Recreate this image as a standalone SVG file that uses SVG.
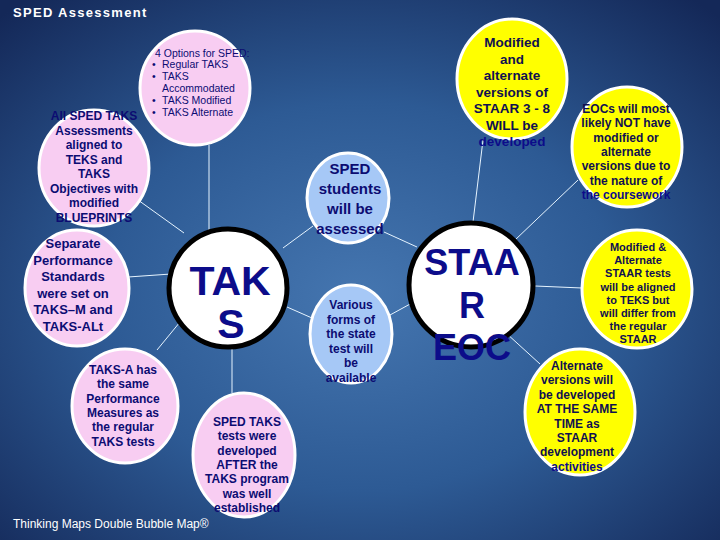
<svg xmlns="http://www.w3.org/2000/svg" width="720" height="540" viewBox="0 0 720 540">
<defs>
<radialGradient id="bg" cx="0.5" cy="0.55" r="0.72">
<stop offset="0" stop-color="#4576b0"/>
<stop offset="0.5" stop-color="#2d5a94"/>
<stop offset="1" stop-color="#142858"/>
</radialGradient>
</defs>
<style>
.pink{fill:#f8cdf2;stroke:#ffffff;stroke-width:3}
.blue{fill:#a6c8f6;stroke:#ffffff;stroke-width:3}
.yel{fill:#ffff00;stroke:#ffffff;stroke-width:3}
.core{fill:#ffffff;stroke:#000000;stroke-width:5}
.t{font-family:"Liberation Sans",Arial,sans-serif;font-weight:bold;fill:#0c0c72;text-anchor:middle}
.ty{font-family:"Liberation Sans",Arial,sans-serif;font-weight:bold;fill:#101050;text-anchor:middle}
.big{font-family:"Liberation Sans",Arial,sans-serif;font-weight:bold;fill:#0c0c8a;text-anchor:middle}
.opt{font-family:"Liberation Sans",Arial,sans-serif;font-size:10.5px;fill:#0c0c72}
.conn line{stroke:#e6f4ff;stroke-width:1}
</style>
<rect x="0" y="0" width="720" height="540" fill="url(#bg)"/>
<text x="13" y="17" font-family="'Liberation Sans',Arial,sans-serif" font-weight="bold" font-size="13" letter-spacing="1.3" fill="#ffffff">SPED Assessment</text>
<text x="13" y="528" font-family="'Liberation Sans',Arial,sans-serif" font-size="12" fill="#ffffff">Thinking Maps Double Bubble Map®</text>

<g id="connectors" class="conn">
<line x1="209" y1="145" x2="209" y2="230"/>
<line x1="138" y1="200" x2="184" y2="233"/>
<line x1="128" y1="277" x2="171" y2="274"/>
<line x1="157" y1="350" x2="180" y2="322"/>
<line x1="232" y1="348" x2="232" y2="393"/>
<line x1="283" y1="248" x2="313" y2="226"/>
<line x1="287" y1="307" x2="312" y2="318"/>
<line x1="384" y1="232" x2="417" y2="247"/>
<line x1="390" y1="315" x2="412" y2="303"/>
<line x1="483" y1="140" x2="473" y2="222"/>
<line x1="578" y1="180" x2="515" y2="240"/>
<line x1="535" y1="286" x2="582" y2="288"/>
<line x1="506" y1="333" x2="540" y2="364"/>
</g>

<g id="options">
<ellipse class="pink" cx="195" cy="88" rx="55" ry="57"/>
<text class="opt" x="155" y="57">4 Options for SPED:</text>
<text class="opt" x="152" y="68">•</text><text class="opt" x="162" y="68">Regular TAKS</text>
<text class="opt" x="152" y="80">•</text><text class="opt" x="162" y="80">TAKS</text>
<text class="opt" x="162" y="92">Accommodated</text>
<text class="opt" x="152" y="104">•</text><text class="opt" x="162" y="104">TAKS Modified</text>
<text class="opt" x="152" y="116">•</text><text class="opt" x="162" y="116">TAKS Alternate</text>
</g>

<g id="aligned">
<ellipse class="pink" cx="94" cy="168" rx="55" ry="58"/>
<text class="t" font-size="12"><tspan x="94" y="120">All SPED TAKS</tspan><tspan x="94" y="134.5">Assessments</tspan><tspan x="94" y="149">aligned to</tspan><tspan x="94" y="163.5">TEKS and</tspan><tspan x="94" y="178">TAKS</tspan><tspan x="94" y="192.5">Objectives with</tspan><tspan x="94" y="207">modified</tspan><tspan x="94" y="221.5">BLUEPRINTS</tspan></text>
</g>

<g id="standards">
<ellipse class="pink" cx="77" cy="288" rx="52" ry="58"/>
<text class="t" font-size="13"><tspan x="73" y="248">Separate</tspan><tspan x="73" y="264.5">Performance</tspan><tspan x="73" y="281">Standards</tspan><tspan x="73" y="297.5">were set on</tspan><tspan x="73" y="314">TAKS–M and</tspan><tspan x="73" y="330.5">TAKS-ALt</tspan></text>
</g>

<g id="taksa">
<ellipse class="pink" cx="125" cy="406" rx="53" ry="57"/>
<text class="t" font-size="12"><tspan x="123" y="374">TAKS-A has</tspan><tspan x="123" y="388.3">the same</tspan><tspan x="123" y="402.6">Performance</tspan><tspan x="123" y="416.9">Measures as</tspan><tspan x="123" y="431.2">the regular</tspan><tspan x="123" y="445.5">TAKS tests</tspan></text>
</g>

<g id="after">
<ellipse class="pink" cx="244" cy="455" rx="51" ry="62"/>
<text class="t" font-size="12"><tspan x="247" y="426">SPED TAKS</tspan><tspan x="247" y="440.3">tests were</tspan><tspan x="247" y="454.6">developed</tspan><tspan x="247" y="468.9">AFTER the</tspan><tspan x="247" y="483.2">TAKS program</tspan><tspan x="247" y="497.5">was well</tspan><tspan x="247" y="511.8">established</tspan></text>
</g>

<g id="taks">
<circle class="core" cx="228" cy="288" r="59"/>
<text class="big" font-size="41"><tspan x="230" y="295">TAK</tspan><tspan x="231" y="338">S</tspan></text>
</g>

<g id="students">
<ellipse class="blue" cx="348" cy="198" rx="41" ry="45"/>
<text class="t" font-size="15"><tspan x="350" y="174">SPED</tspan><tspan x="350" y="194">students</tspan><tspan x="350" y="214">will be</tspan><tspan x="350" y="234">assessed</tspan></text>
</g>

<g id="various">
<ellipse class="blue" cx="351" cy="334" rx="41" ry="49"/>
<text class="t" font-size="12"><tspan x="351" y="309">Various</tspan><tspan x="351" y="323.5">forms of</tspan><tspan x="351" y="338">the state</tspan><tspan x="351" y="352.5">test will</tspan><tspan x="351" y="367">be</tspan><tspan x="351" y="381.5">available</tspan></text>
</g>

<g id="staar">
<circle class="core" cx="471" cy="285" r="62"/>
<text class="big" font-size="36"><tspan x="472" y="275">STAA</tspan><tspan x="472" y="318">R</tspan><tspan x="472" y="360">EOC</tspan></text>
</g>

<g id="modified38">
<ellipse class="yel" cx="512" cy="79" rx="55" ry="60"/>
<text class="ty" font-size="13.5"><tspan x="512" y="47">Modified</tspan><tspan x="512" y="63.5">and</tspan><tspan x="512" y="80">alternate</tspan><tspan x="512" y="96.5">versions of</tspan><tspan x="512" y="113">STAAR 3 - 8</tspan><tspan x="512" y="129.5">WILL be</tspan><tspan x="512" y="146" fill="#0c0c8a">developed</tspan></text>
</g>

<g id="eocs">
<ellipse class="yel" cx="627" cy="147" rx="55" ry="60"/>
<text class="ty" font-size="12"><tspan x="626" y="113">EOCs will most</tspan><tspan x="626" y="127.3">likely NOT have</tspan><tspan x="626" y="141.6">modified or</tspan><tspan x="626" y="155.9">alternate</tspan><tspan x="626" y="170.2">versions due to</tspan><tspan x="626" y="184.5">the nature of</tspan><tspan x="626" y="198.8" fill="#0c0c8a">the coursework</tspan></text>
</g>

<g id="aligned-staar">
<ellipse class="yel" cx="637" cy="289" rx="55" ry="59"/>
<text class="ty" font-size="11"><tspan x="638" y="251">Modified &amp;</tspan><tspan x="638" y="264.2">Alternate</tspan><tspan x="638" y="277.4">STAAR tests</tspan><tspan x="638" y="290.6">will be aligned</tspan><tspan x="638" y="303.8">to TEKS but</tspan><tspan x="638" y="317">will differ from</tspan><tspan x="638" y="330.2">the regular</tspan><tspan x="638" y="343.4">STAAR</tspan></text>
</g>

<g id="sametime">
<ellipse class="yel" cx="580" cy="412" rx="55" ry="63"/>
<text class="ty" font-size="12"><tspan x="577" y="370">Alternate</tspan><tspan x="577" y="384.4">versions will</tspan><tspan x="577" y="398.8">be developed</tspan><tspan x="577" y="413.2">AT THE SAME</tspan><tspan x="577" y="427.6">TIME as</tspan><tspan x="577" y="442">STAAR</tspan><tspan x="577" y="456.4">development</tspan><tspan x="577" y="470.8" fill="#0c0c8a">activities</tspan></text>
</g>
</svg>
